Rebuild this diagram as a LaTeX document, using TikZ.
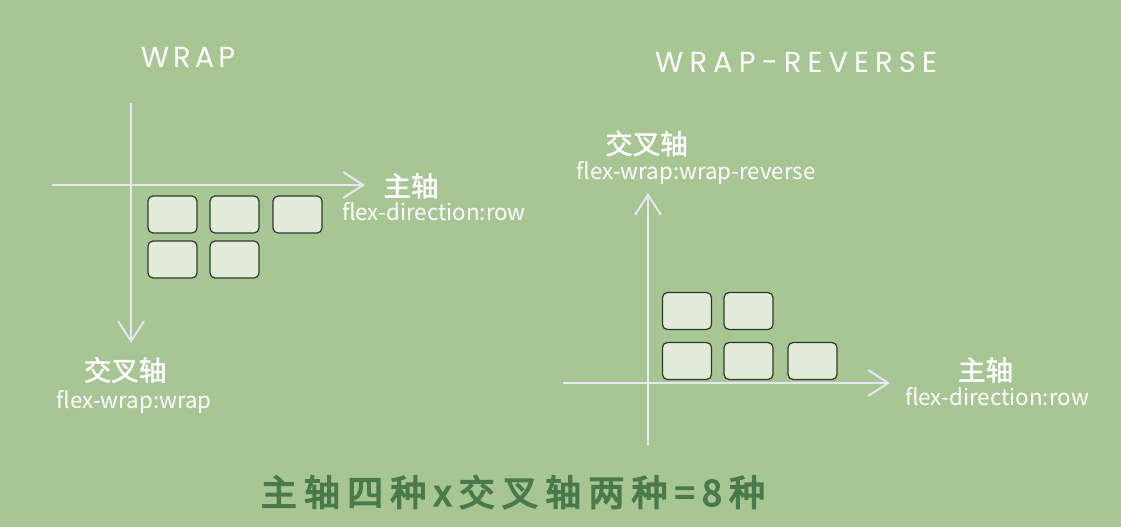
\documentclass[tikz,border=0pt]{standalone}
\usepackage{fontspec}
\usetikzlibrary{arrows.meta}
\newfontfamily\cjk{Noto Sans CJK SC}
\newfontfamily\cjkb{Noto Sans CJK SC}[FakeBold=1.6]
\newfontfamily\cjkbig{Noto Sans CJK SC}[FakeBold=4,LetterSpace=20]
\newfontfamily\titlef{Poppins}[LetterSpace=14]
\newfontfamily\titlefw{Poppins}[LetterSpace=21]
\definecolor{bg}{HTML}{A8C594}
\definecolor{axis}{HTML}{E6E6F4}
\definecolor{boxfill}{HTML}{E2EBDA}
\definecolor{boxdraw}{HTML}{2E3A2A}
\definecolor{deep}{HTML}{4A7A4B}
\tikzset{
  axisline/.style={draw=axis, line width=2pt, -{Straight Barb[length=20pt,width=26pt,line width=2pt]}},
  flexbox/.style={draw=boxdraw, fill=boxfill, rounded corners=5pt, line width=1.2pt, minimum width=49pt, minimum height=37pt, inner sep=0pt},
  title/.style={text=white, font=\titlef\fontsize{29}{32}\selectfont, inner sep=0pt},
  titlew/.style={text=white, font=\titlefw\fontsize{29}{32}\selectfont, inner sep=0pt},
  zh/.style={text=white, font=\cjkb\fontsize{27.5}{29}\selectfont, inner sep=0pt},
  code/.style={text=white, font=\cjk\fontsize{22.3}{24}\selectfont, inner sep=0pt},
  summary/.style={text=deep, font=\cjkbig\fontsize{36}{38}\selectfont, inner sep=0pt}
}
\begin{document}
\begin{tikzpicture}[x=1pt,y=-1pt]
\fill[bg] (0,0) rectangle (1121,527);
\useasboundingbox (0,0) rectangle (1121,527);

% ---------- left: wrap ----------
\node[title] (t1) at (188,57) {WRAP};
\coordinate (l1h0) at (52,185);
\coordinate (l1h1) at (365,185);
\coordinate (l1v0) at (131,103);
\coordinate (l1v1) at (131,343);
\draw[axisline] (l1h0) -- (l1h1);
\draw[axisline] (l1v0) -- (l1v1);
\node[flexbox] (a1) at (172.5,214.5) {};
\node[flexbox] (a2) at (234.5,214.5) {};
\node[flexbox] (a3) at (297.5,214.5) {};
\node[flexbox] (a4) at (172.5,259.5) {};
\node[flexbox] (a5) at (234.5,259.5) {};
\node[zh] (m1) at (411,186) {主轴};
\node[code] (m1c) at (434,212) {flex-direction:row};
\node[zh] (c1) at (125,370) {交叉轴};
\node[code] (c1c) at (134,402) {flex-wrap:wrap};

% ---------- right: wrap-reverse ----------
\node[titlew] (t2) at (796,62) {WRAP-REVERSE};
\coordinate (r1h0) at (563,383);
\coordinate (r1h1) at (890,383);
\coordinate (r1v0) at (648,445);
\coordinate (r1v1) at (648,193);
\draw[axisline] (r1h0) -- (r1h1);
\draw[axisline] (r1v0) -- (r1v1);
\node[flexbox] (b1) at (687,311) {};
\node[flexbox] (b2) at (748.5,311) {};
\node[flexbox] (b3) at (687,361) {};
\node[flexbox] (b4) at (748.5,361) {};
\node[flexbox] (b5) at (812.5,361) {};
\node[zh] (c2) at (646.5,143.5) {交叉轴};
\node[code] (c2c) at (696,173) {flex-wrap:wrap-reverse};
\node[zh] (m2) at (985.5,370) {主轴};
\node[code] (m2c) at (997,397) {flex-direction:row};

% ---------- summary ----------
\node[summary] (s) at (513,492) {主轴四种x交叉轴两种=8种};
\end{tikzpicture}
\end{document}
